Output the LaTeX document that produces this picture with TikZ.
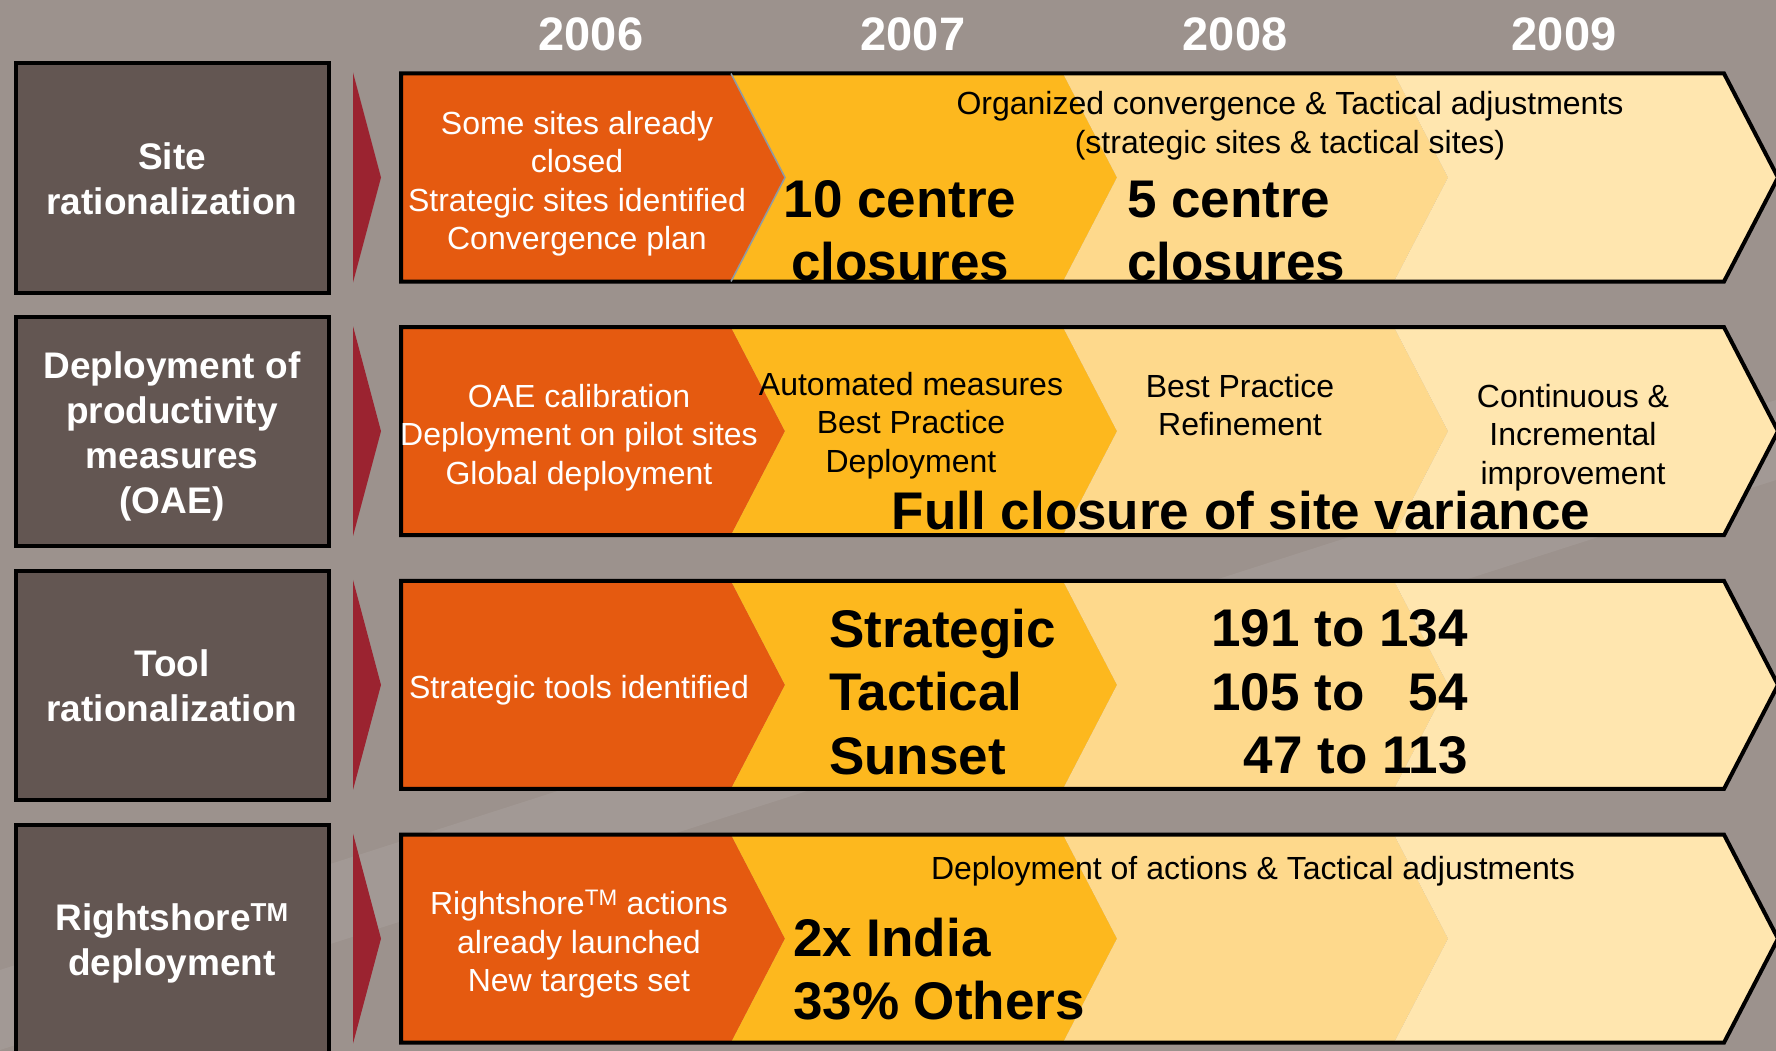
\documentclass[tikz,border=0pt]{standalone}
\usepackage{fontspec}
\setmainfont{Liberation Sans}
\usepackage{tikz}
\usetikzlibrary{positioning}
\definecolor{Slate}{HTML}{9C928D}
\definecolor{Umber}{HTML}{635652}
\definecolor{Wine}{HTML}{9B2330}
\definecolor{Rust}{HTML}{E55A10}
\definecolor{Amber}{HTML}{FDB81E}
\definecolor{Sand}{HTML}{FED98C}
\definecolor{Cream}{HTML}{FFE6AF}
\definecolor{Mist}{HTML}{8E9AA6}

\begin{document}
\begin{tikzpicture}[x=1pt,y=-1pt,
  topic/.style={draw=black,line width=4pt,fill=Umber,text=white,align=center,
    minimum width=313pt,minimum height=229pt,inner sep=0pt,
    font=\fontsize{37}{45}\selectfont\bfseries},
  year/.style={text=white,inner sep=0pt,font=\fontsize{47}{56}\selectfont\bfseries},
  done/.style={text=white,align=center,inner sep=0pt,font=\fontsize{32}{38.5}\selectfont},
  plan/.style={text=black,align=center,inner sep=0pt,font=\fontsize{32}{38.5}\selectfont},
  goal/.style={text=black,inner sep=0pt,font=\fontsize{53}{63.5}\selectfont\bfseries},
  band/.style={line width=4pt,line join=miter}
]
\useasboundingbox (0,0) rectangle (1776,1051);
\fill[Slate] (0,0) rectangle (1776,1051);
\fill[white,opacity=0.07] (1776,400) -- (1776,480) -- (0,1050) -- (0,970) -- cycle;

% Years over the time line.
\node[year] (y2006) at (591,34) {2006};
\node[year] (y2007) at (913,34) {2007};
\node[year] (y2008) at (1235,34) {2008};
\node[year] (y2009) at (1564,34) {2009};

% One arrow band per row: red marker, four yearly chevrons, outline.
\foreach \c in {177.5,431.2,684.9,938.6}{
  \fill[Wine] (353,\c-105) -- (381,\c) -- (353,\c+105) -- cycle;
  \fill[Rust] (401,\c-104) -- (731,\c-104) -- (785,\c) -- (731,\c+104) -- (401,\c+104) -- cycle;
  \fill[Amber] (731,\c-104) -- (1063,\c-104) -- (1117,\c) -- (1063,\c+104) -- (731,\c+104) -- (785,\c) -- cycle;
  \fill[Sand] (1063,\c-104) -- (1394,\c-104) -- (1448,\c) -- (1394,\c+104) -- (1063,\c+104) -- (1117,\c) -- cycle;
  \fill[Cream] (1394,\c-104) -- (1724,\c-104) -- (1778,\c) -- (1724,\c+104) -- (1394,\c+104) -- (1448,\c) -- cycle;
  \draw[band] (401,\c-104) -- (1724,\c-104) -- (1778,\c) -- (1724,\c+104) -- (401,\c+104) -- cycle;
}
\draw[Mist,line width=1.5pt] (731,73.5) -- (785,177.5) -- (731,281.5);

% Row 1: sites.
\node[topic] (siteTopic) at (172,178) {};
\node[topic,draw=none,fill=none] (siteLabel) at (172,179) {Site\\rationalization};
\node[done] (siteDone) at (577,183.5) {Some sites already\\closed\\Strategic sites identified\\Convergence plan};
\node[plan] (sitePlan) at (1290,125.5) {Organized convergence \& Tactical adjustments\\(strategic sites \& tactical sites)};
\node[goal,align=center] (site2007) at (900,231) {10 centre\\closures};
\node[goal,align=left,anchor=west] (site2008) at (1127,231) {5 centre\\closures};

% Row 2: productivity measures.
\node[topic] (oaeTopic) at (172,431.7) {};
\node[topic,draw=none,fill=none] (oaeLabel) at (172,436) {Deployment of\\productivity\\measures\\(OAE)};
\node[done] (oaeDone) at (579,437.5) {OAE calibration\\Deployment on pilot sites\\Global deployment};
\node[plan] (oae2007) at (911,425.5) {Automated measures\\Best Practice\\Deployment};
\node[plan] (oae2008) at (1240,405) {Best Practice\\Refinement};
\node[plan] (oae2009) at (1573,437.5) {Continuous \&\\Incremental\\improvement};
\node[goal] (oaeGoal) at (1241,511) {Full closure of site variance};

% Row 3: tools.
\node[topic] (toolTopic) at (172,685.4) {Tool\\rationalization};
\node[done] (toolDone) at (579,690) {Strategic tools identified};
\node[goal,align=left,anchor=west] (toolKind) at (829,692) {Strategic\\Tactical\\Sunset};
\node[goal,align=right,anchor=east] (toolCount) at (1468,692) {191 to 134\\105 to \phantom{1}54\\47 to 113};

% Row 4: Rightshore.
\node[topic] (shoreTopic) at (172,939) {};
\node[topic,draw=none,fill=none] (shoreLabel) at (172,943.5) {Rightshore\textsuperscript{TM}\\deployment};
\node[done] (shoreDone) at (579,944.5) {Rightshore\textsuperscript{TM} actions\\already launched\\New targets set};
\node[plan] (shorePlan) at (1253,871) {Deployment of actions \& Tactical adjustments};
\node[goal,align=left,anchor=west] (shoreGoal) at (793,969) {2x India\\33\% Others};
\end{tikzpicture}
\end{document}
